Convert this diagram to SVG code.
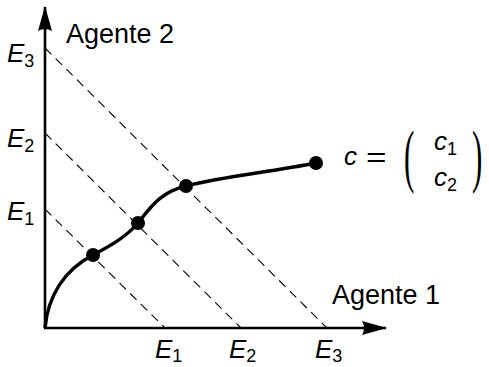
<svg xmlns="http://www.w3.org/2000/svg" width="489" height="367" viewBox="0 0 489 367">
<style>
text{font-family:"Liberation Sans",Arial,sans-serif;fill:#000}
.lbl{font-size:27px}
.m{font-size:26px;font-style:italic}
.sub{font-size:18px;font-style:normal}
.par{font-family:"Liberation Serif","Times New Roman",serif;font-size:27px}
.axis{stroke:#000;stroke-width:2.6;fill:none}
.dash{stroke:#000;stroke-width:1.1;stroke-dasharray:9,6;fill:none}
.curve{stroke:#000;stroke-width:3.4;fill:none}
.dot{fill:#000}
</style>
<defs>
<marker id="ah" markerWidth="26" markerHeight="14" refX="24" refY="7" orient="auto" markerUnits="userSpaceOnUse">
<path d="M0,0 L25,7 L0,14 Q4,7 0,0 Z" fill="#000"/>
</marker>
</defs>
<g id="connectors">
<line class="axis" x1="45" y1="328" x2="45" y2="7" marker-end="url(#ah)"/>
<line class="axis" x1="44" y1="328" x2="386" y2="328" marker-end="url(#ah)"/>
<line class="dash" x1="45" y1="209" x2="165" y2="328"/>
<line class="dash" x1="45" y1="133" x2="241" y2="328"/>
<line class="dash" x1="45" y1="48" x2="327" y2="328"/>
<path class="curve" d="M45,328 C48,296 64,270 93,255 C112,245 127,236 138,223 C150,208 160,192 186,186 C220,177 270,172 316,163"/>
</g>
<g id="points">
<circle class="dot" cx="93" cy="255" r="7"/>
<circle class="dot" cx="138" cy="223" r="7"/>
<circle class="dot" cx="186" cy="186" r="7"/>
<circle class="dot" cx="316" cy="163" r="7"/>
</g>
<g id="axis-labels">
<text class="lbl" x="66" y="43">Agente 2</text>
<text class="lbl" x="332" y="304">Agente 1</text>
</g>
<g id="y-ticks">
<text class="m" x="7" y="62">E<tspan class="sub" dy="5">3</tspan></text>
<text class="m" x="7" y="147">E<tspan class="sub" dy="5">2</tspan></text>
<text class="m" x="7" y="220">E<tspan class="sub" dy="5">1</tspan></text>
</g>
<g id="x-ticks">
<text class="m" x="155" y="358">E<tspan class="sub" dy="4">1</tspan></text>
<text class="m" x="229" y="358">E<tspan class="sub" dy="4">2</tspan></text>
<text class="m" x="315" y="358">E<tspan class="sub" dy="4">3</tspan></text>
</g>
<g id="vector-label">
<text class="m" x="344" y="165">c</text>
<text class="lbl" transform="translate(366,0) scale(1.3,1)" x="0" y="167">=</text>
<text class="par" transform="translate(404,0) scale(1.15,2.6)" x="0" y="69">(</text>
<text class="m" x="434" y="150">c<tspan class="sub" dy="5">1</tspan></text>
<text class="m" x="434" y="186">c<tspan class="sub" dy="5">2</tspan></text>
<text class="par" transform="translate(472,0) scale(1.15,2.6)" x="0" y="69">)</text>
</g>
</svg>
